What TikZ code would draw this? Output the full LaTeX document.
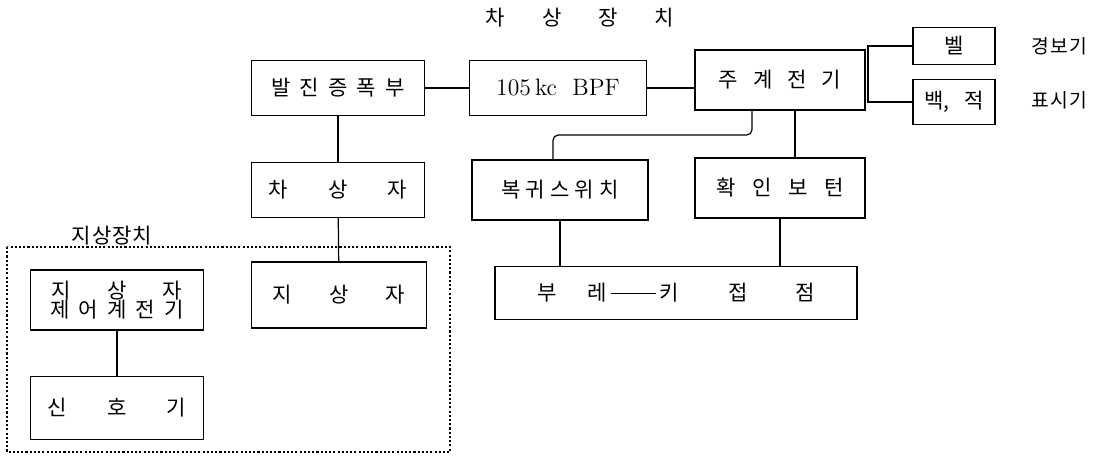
\documentclass[tikz,border=0pt]{standalone}
\usepackage{fontspec}
\newfontfamily\kr{Noto Sans CJK KR}
\usetikzlibrary{positioning, calc}
\newcommand\gp[1]{\hspace{#1cm}}
\tikzset{
  blk/.style={draw, line width=0.7pt, font=\kr\large, inner sep=2pt, minimum width=3.45cm, minimum height=1.1cm},
  smallblk/.style={blk, minimum width=1.64cm, minimum height=0.8cm},
  lbl/.style={font=\kr\large, inner sep=1pt},
  sidelbl/.style={font=\kr\fontsize{11}{13}\selectfont, inner sep=0pt, anchor=west},
  wire/.style={line width=0.7pt},
  groundbox/.style={line width=0.6pt, dash pattern=on 1.2pt off 1.2pt},
}
\begin{document}
\begin{tikzpicture}[x=0.02cm, y=-0.02cm]
  \useasboundingbox (0,0) rectangle (1093,456);
  % vehicle side
  \node[lbl] (title) at (580,18) {차\gp{.74}상\gp{.74}장\gp{.74}치};
  \node[blk] (osc) at (338,88) {발\gp{.18}진\gp{.18}증\gp{.18}폭\gp{.18}부};
  \node[blk, font=\fontsize{13.5}{15}\selectfont, minimum width=3.54cm] (bpf) at (558,88) {105\,kc\ \ BPF};
  \node[blk, minimum width=3.4cm, minimum height=1.2cm] (rly) at (780,80) {주\gp{.3}계\gp{.3}전\gp{.3}기};
  \node[smallblk, minimum height=0.74cm] (bell) at (954,46) {벨};
  \node[smallblk, minimum height=0.9cm] (lamp) at (954,102) {백,\gp{.3}적};
  \node[sidelbl] (alarm) at (1031,46) {경\gp{.03}보\gp{.03}기};
  \node[sidelbl] (indic) at (1031,100) {표\gp{.03}시\gp{.03}기};
  \node[blk] (car) at (338,190) {차\gp{.8}상\gp{.8}자};
  \node[blk, minimum width=3.52cm, minimum height=1.2cm] (reset) at (560,190) {복\gp{.1}귀\gp{.1}스\gp{.1}위\gp{.1}치};
  \node[blk, minimum width=3.4cm, minimum height=1.2cm] (ack) at (780,188) {확\gp{.33}인\gp{.33}보\gp{.33}턴};
  \node[blk, minimum width=7.24cm, minimum height=1.06cm] (brake) at (676,293)
    {부\gp{.62}레\,\rule[0.35em]{0.9cm}{0.5pt}\,키\gp{1.0}접\gp{.95}점};
  % ground side
  \node[lbl, anchor=south] (gndtitle) at (112,247) {지\gp{.02}상\gp{.02}장\gp{.02}치};
  \node[blk, minimum width=3.5cm, minimum height=1.32cm] (gnd) at (339,295) {지\gp{.74}상\gp{.74}자};
  \node[blk, minimum height=1.2cm, align=center, inner sep=1pt] (gctl) at (117,300)
    {지\gp{.72}상\gp{.72}자\\[-3pt]제\gp{.18}어\gp{.18}계\gp{.18}전\gp{.18}기};
  \node[blk, minimum height=1.26cm] (sig) at (117,408) {신\gp{.8}호\gp{.8}기};
  \draw[groundbox] (7,247) rectangle (450,452);
  \coordinate (bus) at (868,70);
  \coordinate (turn) at (553,135);
  \foreach \a/\b in {osc/bpf, car/gnd, gctl/sig} \draw[wire] (\a)--(\b);
  \draw[wire] (bpf.east) -- (bpf.east -| rly.west);
  \draw[wire] (osc.south) -- (car.north);
  \draw[wire] (bell.west) -| (bus) |- (lamp.west);
  \draw[wire, rounded corners=3pt] ([xshift=-0.56cm]rly.south) |- (turn) -- (turn |- reset.north);
  \draw[wire] ([xshift=0.3cm]rly.south) -- ([xshift=0.3cm]ack.north);
  \draw[wire] (reset.south) -- (reset.south |- brake.north);
  \draw[wire] (ack.south) -- (ack.south |- brake.north);
\end{tikzpicture}
\end{document}
